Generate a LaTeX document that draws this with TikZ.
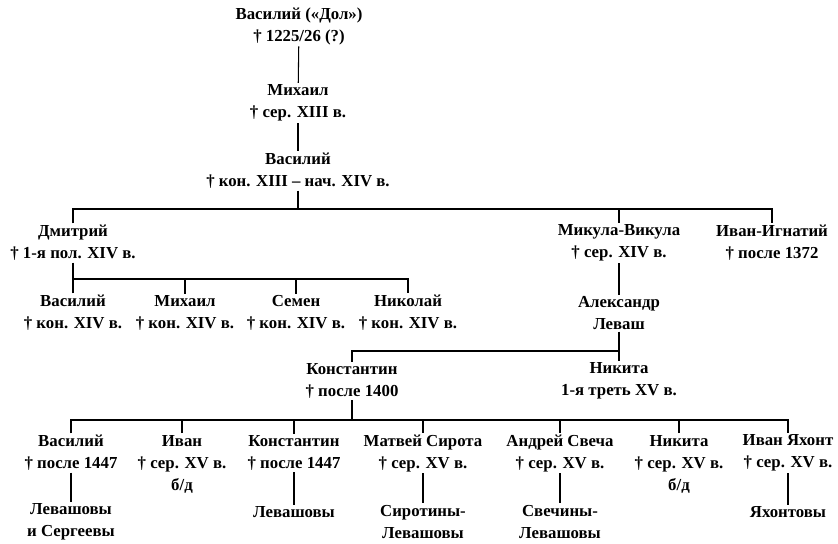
\documentclass[tikz,border=0pt]{standalone}
\usepackage{fontspec}
\setmainfont{Liberation Serif}
\begin{document}
\begin{tikzpicture}[x=0.75pt, y=-0.75pt, line width=0.8pt,
    person/.style={align=center, inner sep=1pt, font=\bfseries\fontsize{12.6}{16.5}\selectfont}]
    \useasboundingbox (0, 0) rectangle (838, 543);

    \node[person] (vasdol) at (299, 26) {Василий («Дол»)\\† 1225/26 (?)};
    \node[person] (mikh) at (298, 103) {Михаил\\† сер. XIII в.};
    \node[person] (vasil) at (298, 171) {Василий\\† кон. XIII – нач. XIV в.};

    \node[person] (dmitr) at (73, 243) {Дмитрий\\† 1-я пол. XIV в.};
    \node[person] (mikula) at (619, 243) {Микула-Викула\\† сер. XIV в.};
    \node[person] (ivanign) at (772, 243) {Иван-Игнатий\\† после 1372};

    \node[person] (vas3) at (73, 313) {Василий\\† кон. XIV в.};
    \node[person] (mikh3) at (185, 313) {Михаил\\† кон. XIV в.};
    \node[person] (semen) at (296, 313) {Семен\\† кон. XIV в.};
    \node[person] (nikol) at (408, 313) {Николай\\† кон. XIV в.};
    \node[person] (alex) at (619, 313) {Александр\\Леваш};

    \node[person] (konst) at (352, 381) {Константин\\† после 1400};
    \node[person] (nikita) at (619, 381) {Никита\\1-я треть XV в.};

    \node[person] (vas4) at (71, 453) {Василий\\† после 1447};
    \node[person] (ivan4) at (182, 464) {Иван\\† сер. XV в.\\б/д};
    \node[person] (konst4) at (294, 453) {Константин\\† после 1447};
    \node[person] (matvey) at (423, 453) {Матвей Сирота\\† сер. XV в.};
    \node[person] (andrey) at (560, 453) {Андрей Свеча\\† сер. XV в.};
    \node[person] (nikita4) at (679, 464) {Никита\\† сер. XV в.\\б/д};
    \node[person] (ivanyah) at (788, 453) {Иван Яхонт\\† сер. XV в.};

    \node[person] (levsg) at (71, 522) {Левашовы\\и Сергеевы};
    \node[person] (lev) at (294, 512) {Левашовы};
    \node[person] (sirot) at (423, 522) {Сиротины-\\Левашовы};
    \node[person] (svech) at (560, 522) {Свечины-\\Левашовы};
    \node[person] (yakh) at (788, 512) {Яхонтовы};

    \coordinate (bar1) at (0, 209);
    \coordinate (bar2) at (0, 279);
    \coordinate (bar3) at (0, 351);
    \coordinate (bar4) at (0, 420);

    \draw (vasdol) -- (mikh);
    \draw (mikh) -- (vasil);

    \draw (vasil.south) -- (vasil.south |- bar1);
    \draw (dmitr.north) |- (ivanign.north |- bar1) -- (ivanign.north);
    \draw (mikula.north) -- (mikula.north |- bar1);

    \draw (dmitr.south) -- (dmitr.south |- bar2);
    \draw (vas3.north) |- (nikol.north |- bar2) -- (nikol.north);
    \draw (mikh3.north) -- (mikh3.north |- bar2);
    \draw (semen.north) -- (semen.north |- bar2);

    \draw (mikula) -- (alex);
    \draw (alex) -- (nikita);
    \draw (konst.north) |- (alex.south |- bar3);

    \draw (konst.south) -- (konst.south |- bar4);
    \draw (vas4.north) |- (ivanyah.north |- bar4) -- (ivanyah.north);
    \foreach \kid in {ivan4, konst4, matvey, andrey, nikita4}
      \draw (\kid.north) -- (\kid.north |- bar4);

    \draw (vas4) -- (levsg);
    \draw (konst4) -- (lev);
    \draw (matvey) -- (sirot);
    \draw (andrey) -- (svech);
    \draw (ivanyah) -- (yakh);
  \end{tikzpicture}
\end{document}
